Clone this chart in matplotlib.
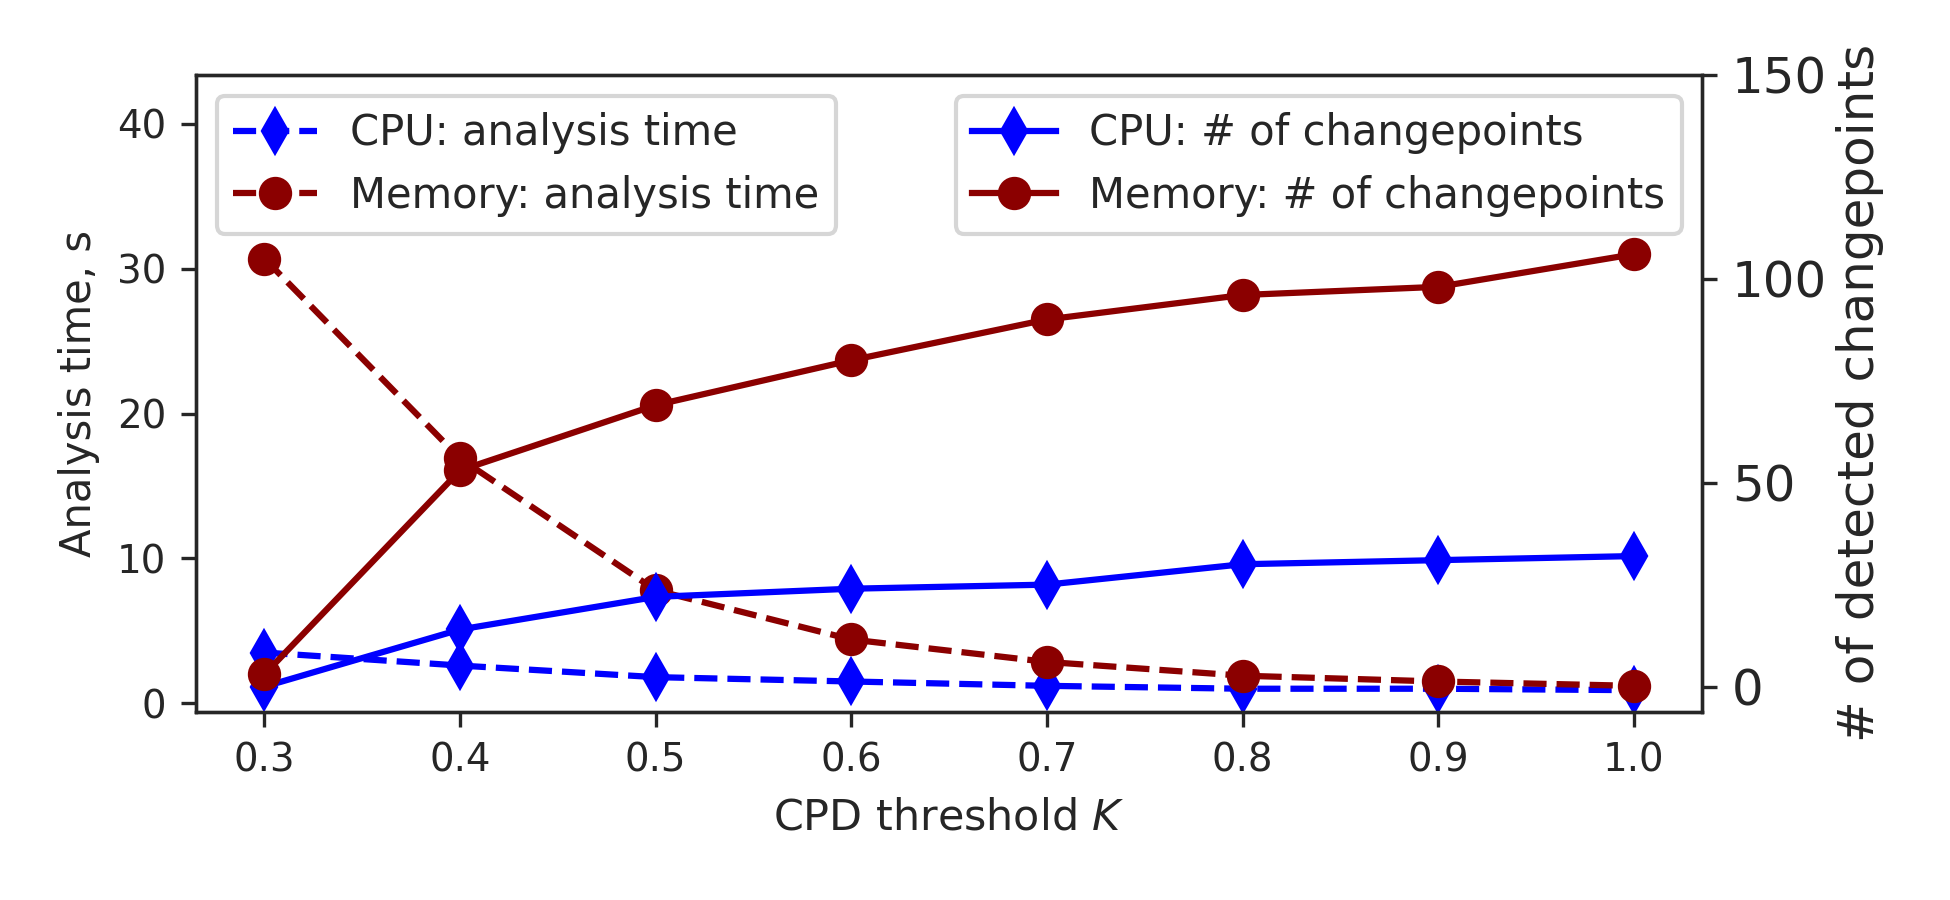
import numpy as np
import matplotlib
matplotlib.use("Agg")
import matplotlib.pyplot as plt

# CPD threshold values
thresholds = [0.3, 0.4, 0.5, 0.6, 0.7, 0.8, 0.9, 1.0]

# analysis time, s (left axis)
cpu_time = [3.5, 2.6, 1.8, 1.5, 1.2, 1.0, 1.0, 0.9]
mem_time = [30.7, 16.9, 7.8, 4.4, 2.85, 1.9, 1.5, 1.2]

# number of detected changepoints (right axis)
cpu_cps = [0, 14, 22, 24, 25, 30, 31, 32]
mem_cps = [3, 53, 69, 80, 90, 96, 98, 106]

text_col = "#262626"
plt.rcParams["font.family"] = "DejaVu Sans"
plt.rcParams["text.color"] = text_col
plt.rcParams["axes.labelcolor"] = text_col
plt.rcParams["xtick.color"] = text_col
plt.rcParams["ytick.color"] = text_col
plt.rcParams["axes.edgecolor"] = text_col
plt.rcParams["axes.linewidth"] = 0.8

fig = plt.figure(figsize=(6.5, 3.0), dpi=300)
ax = fig.add_axes([0.1005, 0.209, 0.7725, 0.708])
ax2 = ax.twinx()

# dashed: analysis time, solid: changepoints (twin axis)
ax.plot(thresholds, cpu_time, "--", color="blue", marker="d", ms=7, lw=1.5,
        label="CPU: analysis time")
ax.plot(thresholds, mem_time, "--", color="darkred", marker="o", ms=7, lw=1.5,
        label="Memory: analysis time")
ax2.plot(thresholds, cpu_cps, "-", color="blue", marker="d", ms=7, lw=1.5,
         label="CPU: # of changepoints")
ax2.plot(thresholds, mem_cps, "-", color="darkred", marker="o", ms=7, lw=1.5,
         label="Memory: # of changepoints")

ax.set_xlim(0.265, 1.035)
ax.set_ylim(-0.6, 43.4)
ax2.set_ylim(-6.2, 150)
ax.set_xticks(thresholds)
ax.set_xticklabels([f"{t:.1f}" for t in thresholds])
ax.set_yticks([0, 10, 20, 30, 40])
ax2.set_yticks([0, 50, 100, 150])

ax.tick_params(labelsize=9.3, length=3.6, width=0.8)
ax2.tick_params(labelsize=12, length=3.6, width=0.8)

ax.set_xlabel("CPD threshold $K$", fontsize=10.3)
ax.set_ylabel("Analysis time, s", fontsize=10)
ax2.set_ylabel("# of detected changepoints", fontsize=12, labelpad=2)

leg1 = ax.legend(loc="upper left", fontsize=10, edgecolor="0.8", fancybox=True)
leg2 = ax2.legend(loc="upper right", fontsize=10, edgecolor="0.8", fancybox=True)

fig.savefig("out.png", dpi=300)
